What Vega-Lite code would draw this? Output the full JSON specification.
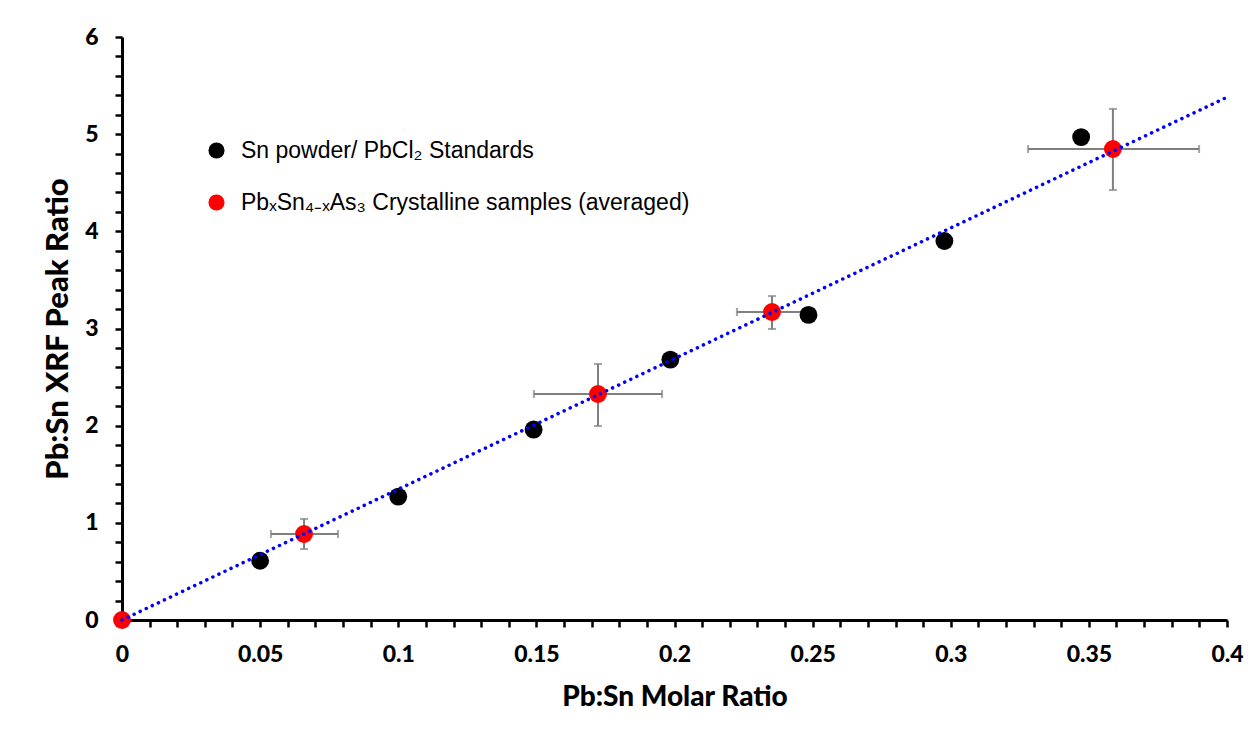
{
  "$schema": "https://vega.github.io/schema/vega-lite/v6.json",
  "width": 1105,
  "height": 583,
  "autosize": {"type": "none"},
  "padding": {"left": 122, "top": 37, "right": 21, "bottom": 109},
  "background": "white",
  "config": {"view": {"stroke": null}},
  "datasets": {
    "standards": [
      {"x": 0.05, "y": 0.61, "series": "Sn powder/ PbCl₂ Standards"},
      {"x": 0.1, "y": 1.27, "series": "Sn powder/ PbCl₂ Standards"},
      {"x": 0.149, "y": 1.96, "series": "Sn powder/ PbCl₂ Standards"},
      {"x": 0.1985, "y": 2.68, "series": "Sn powder/ PbCl₂ Standards"},
      {"x": 0.2485, "y": 3.14, "series": "Sn powder/ PbCl₂ Standards"},
      {"x": 0.2977, "y": 3.9, "series": "Sn powder/ PbCl₂ Standards"},
      {"x": 0.3472, "y": 4.97, "series": "Sn powder/ PbCl₂ Standards"}
    ],
    "samples": [
      {"x": 0, "y": 0, "series": "PbₓSn₄₋ₓAs₃ Crystalline samples (averaged)"},
      {"x": 0.0659, "y": 0.885, "series": "PbₓSn₄₋ₓAs₃ Crystalline samples (averaged)"},
      {"x": 0.1723, "y": 2.326, "series": "PbₓSn₄₋ₓAs₃ Crystalline samples (averaged)"},
      {"x": 0.2353, "y": 3.17, "series": "PbₓSn₄₋ₓAs₃ Crystalline samples (averaged)"},
      {"x": 0.3587, "y": 4.847, "series": "PbₓSn₄₋ₓAs₃ Crystalline samples (averaged)"}
    ],
    "errors": [
      {"x": 0.0659, "y": 0.885, "xlo": 0.0539, "xhi": 0.0782, "ylo": 0.73, "yhi": 1.04},
      {"x": 0.1723, "y": 2.326, "xlo": 0.1491, "xhi": 0.1955, "ylo": 1.996, "yhi": 2.635},
      {"x": 0.2353, "y": 3.17, "xlo": 0.2226, "xhi": 0.248, "ylo": 2.995, "yhi": 3.334},
      {"x": 0.3587, "y": 4.847, "xlo": 0.328, "xhi": 0.3899, "ylo": 4.425, "yhi": 5.26}
    ],
    "trend": [
      {"x": 0, "y": 0},
      {"x": 0.4, "y": 5.38}
    ]
  },
  "layer": [
    {
      "data": {"name": "errors"},
      "mark": {"type": "rule", "color": "#7f7f7f", "strokeWidth": 2},
      "encoding": {
        "x": {
          "field": "xlo", "type": "quantitative", "title": "Pb:Sn Molar Ratio",
          "scale": {"domain": [0, 0.4], "nice": false, "zero": false},
          "axis": {
            "values": [0,0.01,0.02,0.03,0.04,0.05,0.06,0.07,0.08,0.09,0.1,0.11,0.12,0.13,0.14,0.15,0.16,0.17,0.18,0.19,0.2,0.21,0.22,0.23,0.24,0.25,0.26,0.27,0.28,0.29,0.3,0.31,0.32,0.33,0.34,0.35,0.36,0.37,0.38,0.39,0.4],
            "tickCount": 200,
            "labelExpr": "abs(datum.value*20 - round(datum.value*20)) < 0.001 ? format(datum.value, '.2~f') : ''",
            "labelOverlap": false, "labelFlush": false, "grid": false,
            "domainColor": "black", "domainWidth": 3,
            "tickColor": "black", "tickWidth": 2.5, "tickSize": 7,
            "labelFont": "Lato", "labelFontWeight": 900, "labelFontSize": 23, "labelColor": "black", "labelPadding": 16,
            "titleFont": "Lato", "titleFontWeight": 900, "titleFontSize": 28, "titleColor": "black", "titlePadding": 17
          }
        },
        "x2": {"field": "xhi"},
        "y": {
          "field": "y", "type": "quantitative", "title": "Pb:Sn XRF Peak Ratio",
          "scale": {"domain": [0, 6], "nice": false, "zero": false},
          "axis": {
            "values": [0,0.2,0.4,0.6,0.8,1,1.2,1.4,1.6,1.8,2,2.2,2.4,2.6,2.8,3,3.2,3.4,3.6,3.8,4,4.2,4.4,4.6,4.8,5,5.2,5.4,5.6,5.8,6],
            "tickCount": 200,
            "labelExpr": "abs(datum.value - round(datum.value)) < 0.001 ? format(datum.value, 'd') : ''",
            "labelOverlap": false, "labelFlush": false, "grid": false,
            "domainColor": "black", "domainWidth": 3,
            "tickColor": "black", "tickWidth": 2.5, "tickSize": 7,
            "labelFont": "Lato", "labelFontWeight": 900, "labelFontSize": 23, "labelColor": "black", "labelPadding": 17,
            "titleFont": "Lato", "titleFontWeight": 900, "titleFontSize": 31, "titleColor": "black", "titlePadding": 10
          }
        }
      }
    },
    {
      "data": {"name": "errors"},
      "mark": {"type": "rule", "color": "#7f7f7f", "strokeWidth": 2},
      "encoding": {
        "x": {"field": "x", "type": "quantitative", "title": "Pb:Sn Molar Ratio"},
        "y": {"field": "ylo", "type": "quantitative", "title": "Pb:Sn XRF Peak Ratio"},
        "y2": {"field": "yhi"}
      }
    },
    {
      "data": {"name": "errors"},
      "mark": {"type": "tick", "orient": "vertical", "color": "#7f7f7f", "size": 8, "thickness": 2},
      "encoding": {
        "x": {"field": "xlo", "type": "quantitative", "title": "Pb:Sn Molar Ratio"},
        "y": {"field": "y", "type": "quantitative", "title": "Pb:Sn XRF Peak Ratio"}
      }
    },
    {
      "data": {"name": "errors"},
      "mark": {"type": "tick", "orient": "vertical", "color": "#7f7f7f", "size": 8, "thickness": 2},
      "encoding": {
        "x": {"field": "xhi", "type": "quantitative", "title": "Pb:Sn Molar Ratio"},
        "y": {"field": "y", "type": "quantitative", "title": "Pb:Sn XRF Peak Ratio"}
      }
    },
    {
      "data": {"name": "errors"},
      "mark": {"type": "tick", "orient": "horizontal", "color": "#7f7f7f", "size": 8, "thickness": 2},
      "encoding": {
        "x": {"field": "x", "type": "quantitative", "title": "Pb:Sn Molar Ratio"},
        "y": {"field": "ylo", "type": "quantitative", "title": "Pb:Sn XRF Peak Ratio"}
      }
    },
    {
      "data": {"name": "errors"},
      "mark": {"type": "tick", "orient": "horizontal", "color": "#7f7f7f", "size": 8, "thickness": 2},
      "encoding": {
        "x": {"field": "x", "type": "quantitative", "title": "Pb:Sn Molar Ratio"},
        "y": {"field": "yhi", "type": "quantitative", "title": "Pb:Sn XRF Peak Ratio"}
      }
    },
    {
      "data": {"name": "standards"},
      "mark": {"type": "circle", "size": 320, "opacity": 1},
      "encoding": {
        "x": {"field": "x", "type": "quantitative", "title": "Pb:Sn Molar Ratio"},
        "y": {"field": "y", "type": "quantitative", "title": "Pb:Sn XRF Peak Ratio"},
        "color": {
          "field": "series", "type": "nominal",
          "scale": {"domain": ["Sn powder/ PbCl₂ Standards", "PbₓSn₄₋ₓAs₃ Crystalline samples (averaged)"], "range": ["#000000", "#ff0000"]},
          "legend": {
            "title": null, "orient": "none", "legendX": 83, "legendY": 102,
            "symbolType": "circle", "symbolSize": 260, "symbolStrokeWidth": 0, "symbolOpacity": 1,
            "labelFont": "Liberation Sans", "labelFontSize": 23, "labelColor": "black", "labelOffset": 13,
            "labelLimit": 800, "rowPadding": 28, "padding": 0
          }
        }
      }
    },
    {
      "data": {"name": "samples"},
      "mark": {"type": "circle", "size": 320, "opacity": 1},
      "encoding": {
        "x": {"field": "x", "type": "quantitative", "title": "Pb:Sn Molar Ratio"},
        "y": {"field": "y", "type": "quantitative", "title": "Pb:Sn XRF Peak Ratio"},
        "color": {"field": "series", "type": "nominal"}
      }
    },
    {
      "data": {"name": "trend"},
      "mark": {"type": "line", "color": "#0000ff", "strokeWidth": 3.5, "strokeDash": [0.1, 6.6], "strokeCap": "round"},
      "encoding": {
        "x": {"field": "x", "type": "quantitative", "title": "Pb:Sn Molar Ratio"},
        "y": {"field": "y", "type": "quantitative", "title": "Pb:Sn XRF Peak Ratio"}
      }
    }
  ]
}
